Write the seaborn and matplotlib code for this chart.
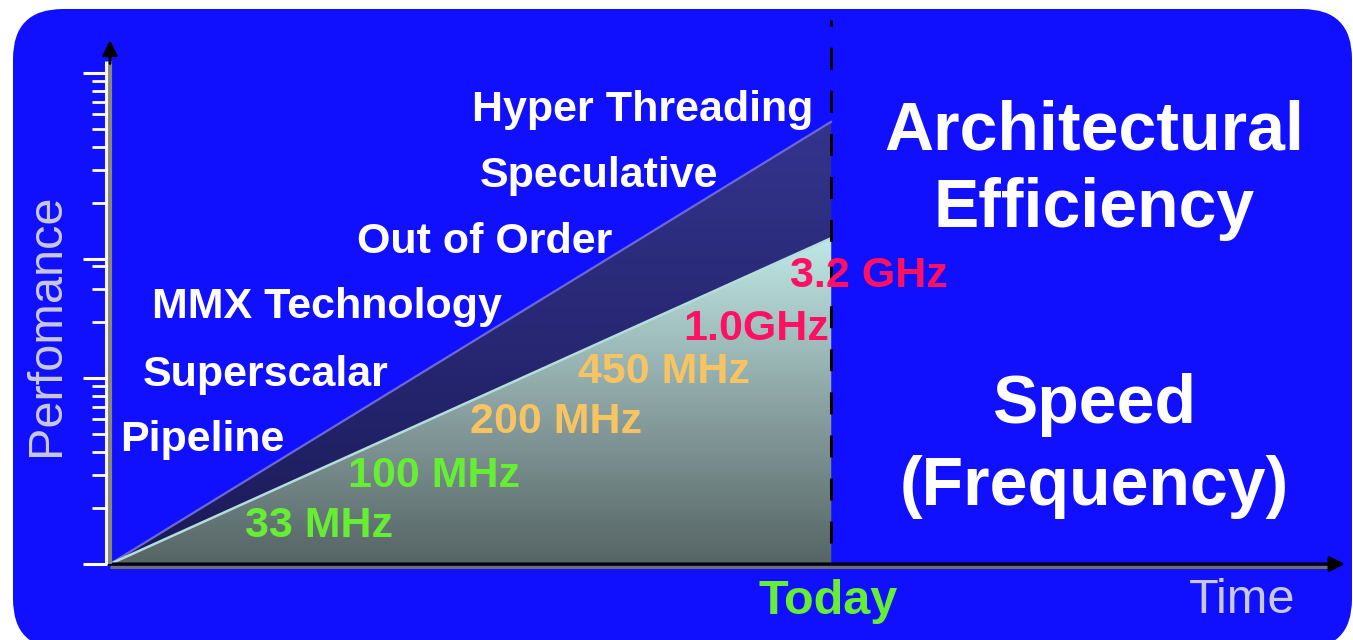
import numpy as np
import matplotlib
matplotlib.use("Agg")
import matplotlib.pyplot as plt
from matplotlib.patches import FancyBboxPatch
from matplotlib.colors import LinearSegmentedColormap
from matplotlib.transforms import offset_copy
import seaborn as sns

# ---- data -------------------------------------------------------------
time = [0.0, 58.4]                 # time axis: origin -> today
total_perf = [0.0, 81.3]           # frequency + architectural efficiency
freq_perf = [0.0, 59.9]            # contribution of clock speed alone
today = 58.4

techniques = ["Pipeline", "Superscalar", "MMX Technology",
              "Out of Order", "Speculative", "Hyper Threading"]
frequencies = ["33 MHz", "100 MHz", "200 MHz", "450 MHz", "1.0GHz", "3.2 GHz"]
freq_colors = ["#66EE33", "#66EE33", "#F8C462", "#F8C462", "#FF1062", "#FF1062"]

# ---- style ------------------------------------------------------------
sns.set_style("white")
plt.rcParams["font.family"] = ["Liberation Sans", "DejaVu Sans"]

W, H = 1353, 640
fig = plt.figure(figsize=(W / 100, H / 100), dpi=100)
fig.patch.set_facecolor("white")

# pixel-space backdrop with the rounded blue panel
bg = fig.add_axes([0, 0, 1, 1])
bg.set_xlim(0, W)
bg.set_ylim(H, 0)
bg.axis("off")
bg.add_patch(FancyBboxPatch((13, 9), 1339, 640,
                            boxstyle="round,pad=0,rounding_size=50",
                            fc="#1010FF", ec="none"))

# main plotting area: origin at (110, 564) px, 100 units = full span
ax = fig.add_axes([110 / W, (H - 564) / H, 1235 / W, 544 / H])
ax.patch.set_alpha(0)
for s in ax.spines.values():
    s.set_visible(False)
ax.set_xticks([])
ax.set_yticks([])

# frequency wedge with vertical gradient
lower = ax.fill_between(time, freq_perf, 0, color="none", lw=0)
cmap_lo = LinearSegmentedColormap.from_list("lo", ["#566464", "#8CA4A4", "#BFE8E6"])
im_lo = ax.imshow(np.linspace(0, 1, 256)[:, None], cmap=cmap_lo, origin="lower",
                  extent=[0, today, 0, max(freq_perf)], aspect="auto", zorder=1)
im_lo.set_clip_path(lower.get_paths()[0], transform=ax.transData)

# architectural band between the two curves
band = ax.fill_between(time, total_perf, freq_perf, color="none", lw=0)
cmap_hi = LinearSegmentedColormap.from_list("hi", ["#1A1A58", "#34348E"])
im_hi = ax.imshow(np.linspace(0, 1, 256)[:, None], cmap=cmap_hi, origin="lower",
                  extent=[0, today, 0, max(total_perf)], aspect="auto", zorder=1)
im_hi.set_clip_path(band.get_paths()[0], transform=ax.transData)

sns.lineplot(x=time, y=total_perf, ax=ax, color="#6A6AD2", lw=1.6, zorder=2)
sns.lineplot(x=time, y=freq_perf, ax=ax, color="#B4DEDC", lw=1.8, zorder=2)

# "today" marker
ax.plot([today, today], [100, 0], color="black", lw=2.2,
        linestyle=(5.2, (7.2, 6.9)), zorder=3, clip_on=False)

# logarithmic-style tick ladder on the performance axis
D = 34.2
decades = [(0.0, D), (D, 21.9), (56.1, D)]
majors, minors = [], []
for start, span in decades:
    majors.append(start)
    minors += [start + D * np.log10(k) for k in range(2, 10)
               if D * np.log10(k) < span - 0.5]
majors.append(decades[-1][0] + D)
px = 100 / 1235                     # one pixel in time units
for yv in majors:
    ax.plot([-27 * px, -3 * px], [yv, yv], color="#FFFFFF", lw=2.2,
            solid_capstyle="butt", zorder=6, clip_on=False)
for yv in minors:
    ax.plot([-18 * px, -3 * px], [yv, yv], color="#FFFFFF", lw=2.0,
            solid_capstyle="butt", zorder=6, clip_on=False)

# axes: 3-D looking lines with black arrow heads
ax.plot([0, 98.8], [0, 0], color="#707068", lw=2.2, zorder=3,
        transform=offset_copy(ax.transData, fig=fig, y=-3, units="dots"),
        clip_on=False, solid_capstyle="butt")
ax.annotate("", xy=(100, 0), xytext=(-0.3, 0),
            arrowprops=dict(arrowstyle="-|>,head_length=0.9,head_width=0.45",
                            color="black", lw=2.2, shrinkA=0, shrinkB=0),
            zorder=4, annotation_clip=False)
ax.plot([0, 0], [0, 92.5], color="#86867A", lw=3.0, zorder=4,
        clip_on=False, solid_capstyle="butt")
ax.plot([0, 0], [0, 92.5], color="#F4F4FF", lw=2.2, zorder=4, clip_on=False,
        transform=offset_copy(ax.transData, fig=fig, x=-4, units="dots"),
        solid_capstyle="butt")
ax.annotate("", xy=(0, 96.3), xytext=(0, 92.0),
            arrowprops=dict(arrowstyle="-|>,head_length=0.9,head_width=0.45",
                            color="black", lw=2.0, shrinkA=0, shrinkB=0),
            zorder=5, annotation_clip=False)
ax.set_xlim(0, 100)
ax.set_ylim(0, 100)

# ---- text layer (pixel coordinates, drawn above the chart) -------------
tx = fig.add_axes([0, 0, 1, 1])
tx.set_xlim(0, W)
tx.set_ylim(H, 0)
tx.axis("off")
tx.patch.set_alpha(0)

tech_pos = [(120, 451), (143, 386), (152, 318), (357, 253), (480, 187), (472, 121)]
for label, (x, y) in zip(techniques, tech_pos):
    tx.text(x, y, label, color="white", fontsize=31, fontweight="bold",
            ha="left", va="baseline")

freq_pos = [(245, 537), (348, 487), (470, 433), (578, 383), (683, 340), (790, 287)]
for label, c, (x, y) in zip(frequencies, freq_colors, freq_pos):
    tx.text(x, y, label, color=c, fontsize=31, fontweight="bold",
            ha="left", va="baseline")

for label, y in [("Architectural", 150), ("Efficiency", 227),
                 ("Speed", 423), ("(Frequency)", 505)]:
    tx.text(1094, y, label, color="white", fontsize=49, fontweight="bold",
            ha="center", va="baseline")

tx.text(828, 614, "Today", color="#66EE33", fontsize=35, fontweight="bold",
        ha="center", va="baseline")
tx.text(1242, 613, "Time", color="#C8C8DC", fontsize=35,
        ha="center", va="baseline")
tx.text(47, 325, "Perfomance", color="#C8C8DC", fontsize=35, rotation=90,
        ha="center", va="center")

fig.savefig("out.png", dpi=100, facecolor="white")
